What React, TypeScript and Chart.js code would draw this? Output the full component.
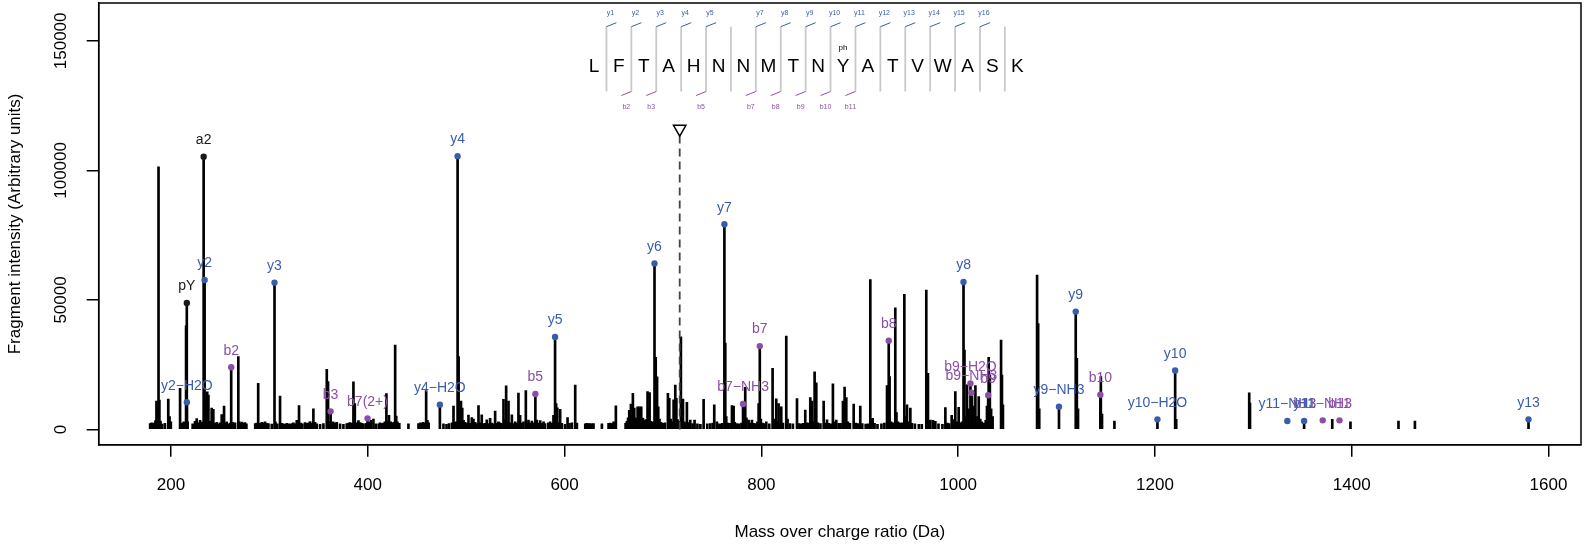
import React, { useEffect, useRef } from 'react';
import { Chart, registerables } from 'chart.js';

Chart.register(...registerables);

const FONT = "'Liberation Sans', Arial, Helvetica, sans-serif";
const BLUE = '#3A5CAD';
const PURPLE = '#8B4FA7';
const DARK = '#1a1a1a';

// ---- Axis ticks ----
const xTickValues = [200, 400, 600, 800, 1000, 1200, 1400, 1600];
const yTickValues = [0, 50000, 100000, 150000];

// ---- Spectrum peaks (m/z, intensity) ----
const peakMz = [
  178.8, 180.2, 181.5, 182.9, 184.2, 185.2, 186.1, 187.3, 188.2, 189.3,
  191.0, 193.8, 197.2, 198.5, 199.8, 209.2, 211.5, 213.0, 215.3, 216.9,
  222.0, 224.4, 226.1, 227.8, 229.5, 231.2, 235.2, 236.8, 238.0, 239.7,
  241.3, 243.0, 244.6, 246.4, 247.8, 249.8, 251.5, 253.9, 255.5, 256.6,
  258.8, 260.1, 262.6, 264.0, 265.1, 268.4, 269.4, 270.9, 272.1, 273.5,
  275.2, 276.6, 285.6, 287.1, 288.6, 289.7, 291.0, 292.2, 293.9, 295.6,
  297.3, 299.0, 302.4, 306.1, 308.0, 310.8, 312.5, 314.2, 316.0, 317.6,
  319.3, 321.0, 323.0, 324.4, 326.1, 327.8, 330.1, 332.0, 333.5, 336.2,
  338.0, 340.0, 341.3, 343.0, 344.7, 346.4, 348.1, 351.5, 354.9, 358.3,
  359.6, 361.0, 363.5, 364.8, 366.7, 368.4, 371.8, 375.2, 378.6, 380.5,
  382.0, 383.6, 385.4, 386.8, 388.8, 390.5, 392.2, 394.0, 395.6, 398.2,
  401.5, 403.0, 405.7, 408.0, 411.0, 412.5, 414.0, 415.9, 417.4, 418.9,
  420.1, 421.5, 423.3, 425.0, 426.3, 427.8, 428.9, 430.1, 432.0, 441.3,
  451.5, 453.5, 454.9, 456.2, 457.6, 459.3, 460.6, 461.8, 476.9, 480.0,
  482.5, 485.5, 487.1, 488.6, 490.0, 492.3, 493.5, 494.7, 496.0, 497.3,
  498.8, 500.5, 502.3, 503.8, 505.7, 507.4, 509.1, 510.5, 512.5, 514.0,
  515.8, 517.2, 519.0, 520.9, 522.5, 524.3, 526.0, 527.5, 529.4, 531.0,
  532.8, 534.2, 535.8, 537.9, 539.4, 540.6, 542.0, 543.0, 544.6, 546.4,
  548.0, 549.8, 551.5, 553.1, 554.8, 556.5, 558.2, 560.6, 562.0, 563.3,
  565.0, 566.7, 568.4, 571.8, 573.5, 575.2, 577.0, 578.6, 580.2, 583.5,
  585.3, 587.0, 588.7, 591.4, 592.6, 594.0, 595.5, 597.2, 600.5, 603.0,
  605.0, 607.4, 610.8, 612.5, 621.0, 622.5, 624.3, 626.0, 627.7, 629.4,
  637.9, 644.7, 646.4, 648.0, 649.8, 652.1, 662.0, 663.3, 664.5, 665.7,
  667.4, 668.5, 669.4, 670.8, 672.0, 673.0, 674.2, 675.9, 677.0, 677.9,
  679.0, 679.6, 681.0, 682.5, 684.3, 685.0, 686.4, 687.5, 689.0, 690.2,
  692.6, 694.0, 695.2, 696.5, 698.0, 700.0, 702.0, 705.0, 706.4, 707.8,
  709.5, 710.8, 712.0, 712.5, 713.6, 714.8, 716.0, 718.2, 719.2, 720.3,
  721.5, 722.8, 724.3, 725.5, 727.7, 730.0, 732.1, 735.0, 738.0, 741.3,
  745.0, 748.0, 750.5, 752.1, 754.8, 756.5, 758.0, 759.8, 763.3, 764.3,
  766.0, 768.5, 770.1, 771.8, 773.0, 775.0, 777.5, 779.8, 782.5, 783.6,
  784.8, 787.0, 788.5, 790.4, 792.0, 794.0, 796.0, 797.2, 799.5, 801.0,
  803.0, 805.0, 808.0, 811.4, 812.5, 815.1, 816.3, 817.5, 819.0, 820.2,
  822.0, 825.3, 826.6, 829.0, 832.0, 836.2, 838.0, 840.0, 842.5, 844.6,
  846.0, 848.0, 849.7, 851.4, 853.0, 854.1, 855.8, 857.5, 860.0, 863.3,
  865.0, 866.7, 868.5, 870.5, 872.7, 873.8, 876.1, 878.5, 880.5, 882.9,
  884.6, 886.3, 888.0, 890.0, 893.8, 896.0, 898.0, 900.5, 902.5, 906.0,
  908.5, 910.7, 911.8, 913.1, 915.0, 918.0, 922.0, 925.0, 927.7, 930.3,
  931.8, 934.0, 936.1, 937.3, 939.0, 941.0, 943.0, 945.3, 946.5, 948.0,
  950.0, 951.4, 953.0, 956.0, 960.0, 963.0, 967.6, 968.5, 969.3, 971.7,
  974.4, 976.8, 980.0, 984.0, 987.0, 989.0, 991.0, 993.4, 995.4, 997.1,
  998.5, 1000.5, 1002.0, 1004.0, 1006.4, 1007.5, 1009.0, 1010.5, 1014.1, 1015.5,
  1017.5, 1019.0, 1020.9, 1022.5, 1024.0, 1026.0, 1028.0, 1029.3, 1031.0, 1032.2,
  1033.5, 1035.0, 1043.6, 1044.5, 1045.5, 1080.2, 1081.3, 1082.4, 1120.6, 1121.8,
  1145.0, 1146.2, 1158.8, 1221.6, 1295.8, 1296.6, 1380.2, 1398.7, 1447.5, 1464.2,
];

const peakIntensity = [
  2300, 2600, 2200, 2500, 3400, 11000, 7500, 101400, 11400, 3300,
  2100, 2400, 11700, 5000, 3000, 15900, 2500, 3000, 40000, 3000,
  2200, 3200, 4200, 2600, 3500, 2900, 12000, 14500, 13300, 3200,
  8300, 7800, 2400, 2800, 2200, 2600, 5800, 9000, 2500, 3000,
  2200, 2500, 2800, 2300, 2600, 28100, 3000, 2600, 2900, 2400,
  2700, 2200, 2300, 2500, 17800, 2400, 2200, 2800, 2600, 3000,
  2400, 2300, 2100, 3000, 2200, 12900, 2400, 2200, 2000, 2400,
  2200, 2100, 2300, 2600, 2200, 3500, 9200, 2500, 2200, 2700,
  2400, 2600, 3100, 2500, 8000, 2800, 2200, 2000, 2300, 23200,
  18500, 3000, 2600, 3000, 2500, 2800, 2200, 2000, 2300, 2500,
  2700, 2400, 18400, 10000, 2600, 3400, 2700, 2400, 2200, 2400,
  2800, 3500, 4000, 2200, 2200, 2600, 2300, 2500, 3000, 13900,
  3000, 5500, 3000, 2500, 2800, 32600, 5200, 3000, 2400, 2200,
  2300, 2600, 2400, 2800, 2500, 15000, 3500, 2600, 2200, 2000,
  2300, 2600, 9000, 2800, 3000, 28100, 3200, 11000, 8300, 3500,
  2800, 2500, 5600, 2400, 4600, 4000, 2800, 2300, 9200, 2600,
  5700, 2200, 2400, 3700, 2300, 4300, 2500, 2200, 7100, 2400,
  3000, 2600, 2400, 11600, 3800, 16900, 3000, 11000, 2600, 5700,
  2300, 3000, 2400, 14100, 5500, 2500, 3000, 15000, 2700, 3600,
  2500, 3300, 2600, 3600, 2500, 3400, 2400, 3000, 2300, 2600,
  3000, 2400, 5500, 10000, 8400, 2600, 7800, 2400, 2000, 4600,
  2400, 2600, 17100, 2500, 2200, 2400, 2300, 2300, 2200, 2300,
  2200, 2400, 2500, 2300, 3000, 9100, 2400, 3200, 4500, 7400,
  9800, 4800, 14000, 8300, 4500, 3700, 8800, 8800, 4700, 8800,
  4400, 4300, 3500, 3800, 14600, 8000, 14300, 3200, 3000, 2800,
  27900, 20300, 8800, 4000, 2800, 2400, 2600, 14000, 12000, 4000,
  3000, 11500, 9500, 17100, 12000, 3800, 3200, 35800, 8000, 11700,
  3000, 2600, 10500, 2700, 3600, 2300, 3600, 2200, 2000, 11600,
  2200, 2300, 2500, 9500, 3000, 2200, 2000, 2400, 33400, 5000,
  2500, 2400, 9200, 9000, 2800, 2300, 2200, 2500, 3000, 16300,
  4500, 3600, 2500, 3600, 2400, 2300, 3000, 10000, 4000, 2500,
  2300, 3000, 2200, 23600, 4000, 11800, 3000, 10000, 2500, 8800,
  2500, 36100, 4000, 2300, 2200, 11900, 2300, 2200, 2400, 7500,
  2600, 2500, 12300, 11000, 3000, 22300, 18000, 2600, 2300, 11000,
  2500, 3700, 2400, 2200, 17600, 3000, 3600, 2400, 2400, 11000,
  16400, 12300, 3000, 2400, 9800, 2500, 2300, 9000, 2300, 2100,
  2200, 57900, 4000, 4300, 2400, 2000, 2200, 2500, 17000, 20400,
  3000, 2600, 47000, 6500, 3000, 2500, 2600, 52200, 5000, 9500,
  3000, 8300, 2400, 2200, 2000, 2000, 53800, 8000, 21700, 3600,
  3500, 3200, 2200, 2000, 8500, 2500, 2300, 5500, 3800, 14600,
  3000, 8600, 2600, 3000, 30700, 5000, 17200, 8000, 12700, 9000,
  17000, 5000, 12700, 4000, 3000, 2500, 3500, 9000, 27850, 21000,
  8000, 5000, 34500, 21000, 9500, 59600, 40900, 8000, 27500, 8000,
  20400, 6000, 3300, 3900, 14200, 10200, 3900, 3000, 3300, 3300,
];

// ---- Annotated fragment ions ----
const ionLabels = [
  'pY', 'y2\u2212H2O', 'a2', 'y2', 'b2', 'y3', 'b3', 'b7(2+)', 'y4\u2212H2O', 'y4',
  'b5', 'y5', 'y6', 'y7', 'b7\u2212NH3', 'b7', 'b8', 'y8', 'b9\u2212H2O', 'b9\u2212NH3',
  'b9', 'y9\u2212NH3', 'y9', 'b10', 'y10\u2212H2O', 'y10', 'y11\u2212NH3', 'y11', 'b11\u2212NH3', 'b11',
  'y13',
];
const ionMz = [
  216.04, 216.13, 233.16, 234.14, 261.16, 305.18, 362.21, 399.7, 473.25, 491.26,
  570.3, 590.33, 691.38, 762.41, 781.36, 798.39, 929.43, 1005.44, 1012.47, 1013.45,
  1030.48, 1102.46, 1119.49, 1144.52, 1202.52, 1220.53, 1334.55, 1351.58, 1370.52, 1387.55,
  1579.66,
];
const ionIntensity = [
  48800, 10500, 105300, 57700, 24000, 56700, 7000, 4300, 9600, 105500,
  13700, 35700, 64100, 79200, 9840, 32200, 34300, 56900, 17800, 14200,
  13200, 8800, 45500, 13400, 3930, 22800, 3280, 3280, 3540, 3540,
  3930,
];
const ionKind = [
  'o', 'y', 'o', 'y', 'b', 'y', 'b', 'b', 'y', 'y',
  'b', 'y', 'y', 'y', 'b', 'b', 'b', 'y', 'b', 'b',
  'b', 'y', 'y', 'b', 'y', 'y', 'y', 'y', 'b', 'b',
  'y',
];
const ionHasStick = [
  true, true, true, true, true, true, true, true, true, true,
  true, true, true, true, true, true, true, true, true, true,
  true, true, true, true, true, true, false, true, false, false,
  true,
];

// ---- Precursor ----
const precursorMz = 716.99;
const precursorLineTop = 113200;
const precursorMarker = 116000;

// ---- Peptide sequence annotation ----
const sequence = ['L', 'F', 'T', 'A', 'H', 'N', 'N', 'M', 'T', 'N', 'Y', 'A', 'T', 'V', 'W', 'A', 'S', 'K'];
const seqYMarks = [1, 2, 3, 4, 5, 7, 8, 9, 10, 11, 12, 13, 14, 15, 16];
const seqBMarks = [2, 3, 5, 7, 8, 9, 10, 11];
const phosphoIndex = 10;
const phosphoLabel = 'ph';

const xTitle = 'Mass over charge ratio (Da)';
const yTitle = 'Fragment intensity (Arbitrary units)';

function kindColor(k: string) {
  if (k === 'y') return BLUE;
  if (k === 'b') return PURPLE;
  return DARK;
}

const annotPlugin = {
  id: 'spectrumAnnot',
  afterDatasetsDraw(chart: any) {
    const { ctx, scales } = chart;
    const x = scales.x;
    const y = scales.y;
    ctx.save();
    ctx.font = `14px ${FONT}`;
    ctx.textAlign = 'center';
    ctx.textBaseline = 'middle';
    ionLabels.forEach((lab, i) => {
      ctx.fillStyle = kindColor(ionKind[i]);
      ctx.fillText(lab, x.getPixelForValue(ionMz[i]), y.getPixelForValue(ionIntensity[i]) - 16.5);
    });
    ctx.restore();
  },
  afterDraw(chart: any) {
    const { ctx, chartArea: a, scales } = chart;
    ctx.save();
    // plot frame
    ctx.strokeStyle = '#000';
    ctx.lineWidth = 1.5;
    ctx.strokeRect(a.left, a.top, a.right - a.left, a.bottom - a.top);

    // y tick labels, rotated as in the original
    const yScale = scales.y;
    ctx.fillStyle = '#000';
    ctx.font = `17px ${FONT}`;
    ctx.textAlign = 'center';
    ctx.textBaseline = 'middle';
    yScale.ticks.forEach((t: any) => {
      const py = yScale.getPixelForValue(t.value);
      ctx.save();
      ctx.translate(a.left - 37.5, py);
      ctx.rotate(-Math.PI / 2);
      ctx.fillText(String(t.value), 0, 0);
      ctx.restore();
    });

    // sequence
    const x0 = 594;
    const step = 24.9;
    const sepTop = 26.7;
    const sepBottom = 91.5;
    const sepX = (k: number) => x0 + step * (k - 1) + step / 2;
    ctx.strokeStyle = '#C9C9C9';
    ctx.lineWidth = 1.8;
    for (let k = 1; k < sequence.length; k++) {
      ctx.beginPath();
      ctx.moveTo(sepX(k), sepTop);
      ctx.lineTo(sepX(k), sepBottom);
      ctx.stroke();
    }
    ctx.fillStyle = '#000';
    ctx.font = `19px ${FONT}`;
    ctx.textAlign = 'center';
    ctx.textBaseline = 'alphabetic';
    sequence.forEach((s, i) => ctx.fillText(s, x0 + step * i, 71.5));
    ctx.font = `8px ${FONT}`;
    ctx.textBaseline = 'middle';
    ctx.fillText(phosphoLabel, x0 + step * phosphoIndex, 47.5);

    ctx.lineWidth = 1;
    ctx.font = `7px ${FONT}`;
    seqYMarks.forEach((k) => {
      const sx = sepX(k);
      ctx.strokeStyle = BLUE;
      ctx.beginPath();
      ctx.moveTo(sx, sepTop);
      ctx.lineTo(sx + 10, sepTop - 4);
      ctx.stroke();
      ctx.fillStyle = BLUE;
      ctx.fillText('y' + k, sx + 4, 13.3);
    });
    seqBMarks.forEach((k) => {
      const sx = sepX(k);
      ctx.strokeStyle = PURPLE;
      ctx.beginPath();
      ctx.moveTo(sx, sepBottom);
      ctx.lineTo(sx - 10, sepBottom + 4);
      ctx.stroke();
      ctx.fillStyle = PURPLE;
      ctx.fillText('b' + k, sx - 5, 106.7);
    });
    ctx.restore();
  },
};

export default function App() {
  const ref = useRef<HTMLCanvasElement | null>(null);

  useEffect(() => {
    if (!ref.current) return;
    const sticks = peakMz.map((m, i) => ({ x: m, y: peakIntensity[i] }));
    ionMz.forEach((m, i) => {
      if (ionHasStick[i]) sticks.push({ x: m, y: ionIntensity[i] });
    });
    const dots = ionMz.map((m, i) => ({ x: m, y: ionIntensity[i] }));

    const chart = new Chart(ref.current, {
      type: 'bar',
      data: {
        datasets: [
          {
            type: 'scatter',
            data: dots,
            pointRadius: 3.2,
            pointBorderWidth: 0,
            pointBackgroundColor: ionKind.map(kindColor),
            order: 0,
          } as any,
          {
            type: 'scatter',
            data: [{ x: precursorMz, y: precursorMarker }],
            pointStyle: 'triangle',
            rotation: 180,
            pointRadius: 7.2,
            pointBackgroundColor: '#fff',
            pointBorderColor: '#000',
            pointBorderWidth: 1.5,
            order: 1,
          } as any,
          {
            type: 'line',
            data: [
              { x: precursorMz, y: 0 },
              { x: precursorMz, y: precursorLineTop },
            ],
            borderColor: '#444',
            borderWidth: 1.8,
            borderDash: [8, 5],
            pointRadius: 0,
            fill: false,
            order: 2,
          } as any,
          {
            type: 'bar',
            data: sticks,
            backgroundColor: '#000',
            borderWidth: 0,
            barThickness: 2,
            grouped: false,
            order: 3,
          } as any,
        ],
      },
      options: {
        responsive: false,
        devicePixelRatio: 1,
        animation: false,
        events: [],
        layout: { autoPadding: false, padding: { top: 3, right: 15, left: 0, bottom: 0 } },
        plugins: { legend: { display: false }, tooltip: { enabled: false } },
        scales: {
          x: {
            type: 'linear',
            offset: false,
            min: 126.5,
            max: 1633,
            afterFit: (s: any) => {
              s.height = 101.2;
            },
            afterBuildTicks: (s: any) => {
              s.ticks = xTickValues.map((v) => ({ value: v }));
            },
            grid: {
              offset: false,
              drawOnChartArea: false,
              drawTicks: true,
              tickLength: 12,
              color: '#000',
              lineWidth: 1.5,
            },
            border: { display: true, color: '#000', width: 1.5 },
            ticks: {
              padding: 18.5,
              maxRotation: 0,
              autoSkip: false,
              color: '#000',
              font: { family: FONT, size: 17 },
              callback: (v: any) => String(v),
            },
            title: {
              display: true,
              text: xTitle,
              color: '#000',
              font: { family: FONT, size: 17 },
              padding: { top: 0, bottom: 3.8 },
            },
          },
          y: {
            type: 'linear',
            min: -5900,
            max: 164600,
            afterFit: (s: any) => {
              s.width = 98.7;
            },
            afterBuildTicks: (s: any) => {
              s.ticks = yTickValues.map((v) => ({ value: v }));
            },
            grid: {
              drawOnChartArea: false,
              drawTicks: true,
              tickLength: 12,
              color: '#000',
              lineWidth: 1.5,
            },
            border: { display: true, color: '#000', width: 1.5 },
            ticks: {
              display: false,
              autoSkip: false,
            },
            title: {
              display: true,
              text: yTitle,
              color: '#000',
              font: { family: FONT, size: 17 },
              padding: { top: 5, bottom: 0 },
            },
          },
        },
      },
      plugins: [annotPlugin],
    } as any);

    return () => chart.destroy();
  }, []);

  return (
    <div style={{ position: 'fixed', left: 0, top: 0, width: 1596, height: 546, background: '#fff' }}>
      <canvas ref={ref} width={1596} height={546} style={{ width: 1596, height: 546, display: 'block' }} />
    </div>
  );
}
